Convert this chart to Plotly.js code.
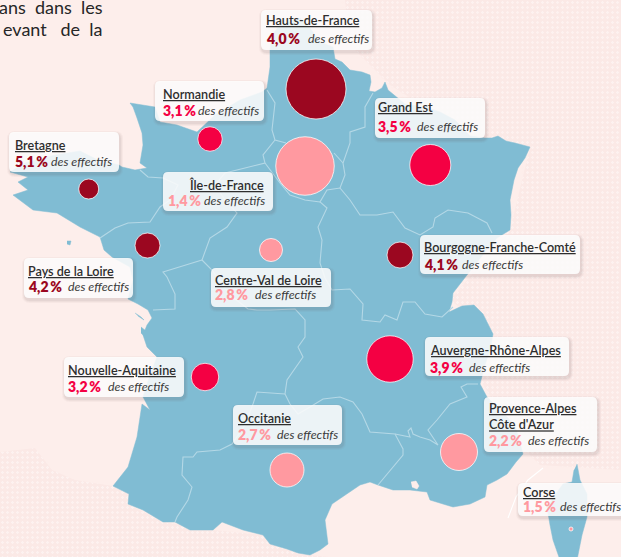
<!DOCTYPE html>
<html><head><meta charset="utf-8">
<script src="https://cdn.plot.ly/plotly-3.0.1.min.js"></script>
<style>
html,body{margin:0;padding:0;background:#fdeeeb;width:621px;height:557px;overflow:hidden}
.tex{position:absolute;left:0;top:0;width:621px;height:557px;
 background-color:#fbe9e6;
 background-image:radial-gradient(circle,rgba(255,248,246,.6) 1px,transparent 1.5px);
 background-size:5px 5px}
#texA{clip-path:polygon(345px 0,621px 0,621px 470px,540px 465px,525px 450px,480px 380px,493px 334px,450px 300px,510px 230px,530px 147px,470px 136px,390px 85px,350px 45px)}
#texB{clip-path:polygon(0 452px,35px 448px,52px 470px,75px 480px,113px 486px,129px 494px,128px 504px,163px 522px,213px 530px,263px 535px,287px 549px,310px 555px,328px 557px,0 557px)}
#chart{position:absolute;left:0;top:0;width:621px;height:557px}
</style></head><body>
<div class="tex" id="texA"></div><div class="tex" id="texB"></div><div id="chart"></div>
<script>
const regions=["Hauts-de-France","Normandie","Bretagne","Île-de-France","Pays de la Loire","Centre-Val de Loire","Grand Est","Bourgogne-Franche-Comté","Auvergne-Rhône-Alpes","Nouvelle-Aquitaine","Occitanie","Provence-Alpes<br>Côte d'Azur","Corse"];
const rates=["4,0","3,1","5,1","1,4","4,2","2,8","3,5","4,1","3,9","3,2","2,7","2,2","1,5"];
const bubbleX=[316,210,88.7,305,147.5,271,430.3,400,390,205,287,459,571];
const bubbleY=[89,139,189,166,245.5,250,165,255,359,377,470,452,529];
const bubbleD=[60,24.5,20,58.5,25,23,41,26,46.5,27.5,34,37,4];
const DARK="#9b0720",RED="#f40043",PINK="#ff99a0";
const rateColor=[DARK,RED,DARK,PINK,DARK,PINK,RED,DARK,RED,RED,PINK,PINK,PINK];
const boxX0=[261,155,9,163,24,211,375,420,425,64,233,484,518];
const boxY0=[10,81,132,172,258,268,98,235,337,357,405,397,483];
const boxX1=[372,264,119,273,133,331,485,580,569,184,342,597,626];
const boxY1=[50,121,172,211,298,307,138,274,376,397,445,452,516];
const textX=[266,163,15,168,28,215,378,424,430,68,238,489,523];
const suffixX=[307.7,198,50.7,204,68,255,417,462,469,108,277,528,560];
const nameY=[20,94,145,184.5,271,280,107,247,350,370,418,416.5,492];
const rateY=[38,110,161,200,286,294,126,264,367,386,434,440,506];

const mainland=[[300,18],[310,28],[320,42],[333,47],[335,59],[342,62],[350,70],[362,72],[370,75],[371,82],[369,91],[375,92],[382,88],[385,82],[388,90],[396,97],[405,104],[425,107],[440,112],[455,120],[470,136],[485,138],[492,138],[498,136],[506,141],[515,143],[530,147],[525,158],[518,168],[514,180],[510,200],[511,215],[510,230],[497,238],[485,252],[467,275],[458,286],[453,293],[452,302],[449,312],[462,306],[474,305],[483,314],[488,324],[493,334],[490,350],[485,365],[480,384],[487,397],[500,410],[515,425],[523,454],[516,462],[507,474],[497,480],[487,485],[485,497],[470,504],[453,507],[443,504],[430,500],[427,492],[410,490],[403,490],[393,490],[378,485],[370,482],[360,485],[343,497],[332,504],[325,520],[328,544],[320,550],[310,555],[298,553],[287,549],[270,544],[263,535],[243,530],[222,522],[213,530],[190,530],[175,522],[163,522],[143,510],[128,504],[129,494],[113,486],[128,467],[137,437],[142,404],[150,410],[143,397],[150,375],[157,357],[147,347],[143,335],[147,325],[152,318],[148,310],[138,304],[128,299],[133,280],[130,267],[112,257],[104,250],[100,237],[80,227],[57,213],[33,210],[13,195],[28,190],[18,182],[28,177],[10,172],[25,163],[55,155],[80,151],[98,160],[119,165],[122,167],[135,170],[147,168],[140,163],[143,145],[142,133],[137,118],[133,107],[130,103],[155,107],[160,122],[177,125],[197,132],[215,115],[240,100],[262,92],[267,88],[270,67],[270,50],[272,35],[280,25]];
const corsica=[[577,464],[580,480],[587,494],[587,517],[582,535],[577,560],[560,560],[553,540],[550,525],[547,507],[555,495],[563,484],[572,482],[574,470]];
const isles=[[[135,313],[141,317],[144,320],[138,316]],[[141,327],[146,331],[145,337],[141,333]],[[67,241],[71,241],[70,245],[67,244]]];
const lagoon=[[411,482],[416,481],[419,486],[417,489],[412,487]];
const borders=[
 [[267,90],[275,103],[272,130],[275,140],[286,143]],
 [[275,140],[263,155],[265,163],[238,170],[225,173],[215,185],[225,200],[237,213],[227,227],[210,238],[202,260],[212,270],[230,295],[248,309],[257,310],[270,310],[295,309],[305,320],[305,337],[298,347],[303,357],[287,380],[285,394],[290,404],[298,414],[310,407],[323,399],[340,397],[353,402],[362,414],[370,432],[395,434],[403,449],[403,455],[387,474],[378,485]],
 [[140,170],[148,177],[163,178],[178,185],[170,200],[160,207],[150,222],[128,223],[115,228],[100,238]],
 [[202,260],[163,272],[167,277],[175,294],[175,309],[153,310]],
 [[285,394],[257,392],[253,404],[245,425],[232,444],[220,450],[197,452],[193,457],[183,457],[182,475],[192,487],[188,500],[177,517],[175,522]],
 [[395,434],[410,437],[408,431],[411,428],[413,434],[420,437],[430,440],[438,445],[428,430],[437,420],[450,404],[467,397],[461,387],[467,384],[478,384]],
 [[320,263],[322,240],[318,227],[327,208],[320,202],[327,190],[340,188],[350,200],[360,215],[377,215],[393,212],[405,228],[420,235],[433,227],[435,218],[448,210],[468,213],[487,223],[492,233]],
 [[320,263],[325,278],[332,290],[350,289],[363,304],[362,320],[380,322],[385,315],[397,320],[403,302],[415,302],[425,314],[442,317],[453,307]],
 [[373,93],[365,107],[365,127],[350,132],[350,143],[343,163],[345,175],[340,188]],
 [[334,153],[343,163]],
 [[265,163],[280,183],[290,195],[305,200],[320,202]]
];
const insetLine=[[543,468],[528,480],[516,497],[508,518]];

const line=(pts,color,width,fill)=>({type:'scatter',mode:'lines',x:pts.map(p=>p[0]),y:pts.map(p=>p[1]),
  line:{color:color,width:width,shape:'linear'},fill:fill?'toself':'none',fillcolor:fill||undefined,hoverinfo:'skip',showlegend:false});
const BLUE="#80bcd3";
const traces=[line(mainland,BLUE,.5,BLUE),line(corsica,BLUE,.5,BLUE)];
isles.forEach(p=>traces.push(line(p,BLUE,.5,BLUE)));
traces.push(line(lagoon,"#fdeeeb",.5,"#fdeeeb"));
borders.forEach(p=>traces.push(line(p,"#b4d8e6",1.1)));
traces.push(line(insetLine,"#ffffff",1.1));
traces.push({type:'scatter',mode:'markers',x:bubbleX,y:bubbleY,text:regions,hoverinfo:'text',showlegend:false,
  marker:{size:bubbleD,opacity:1,color:rateColor,line:{color:'rgba(255,255,255,.75)',width:1}}});

const rr=(x0,y0,x1,y1,r)=>`M${x0+r},${y0}L${x1-r},${y0}Q${x1},${y0} ${x1},${y0+r}L${x1},${y1-r}Q${x1},${y1} ${x1-r},${y1}L${x0+r},${y1}Q${x0},${y1} ${x0},${y1-r}L${x0},${y0+r}Q${x0},${y0} ${x0+r},${y0}Z`;
const shapes=[],ann=[];
const F="Lato";
const note=(x,y,anchor,text,font,align)=>ann.push({x:x,y:y,xref:'x',yref:'y',xanchor:anchor,yanchor:'middle',showarrow:false,text:text,align:align||'left',font:Object.assign({family:F},font)});
regions.forEach((n,i)=>{
 const x0=boxX0[i],y0=boxY0[i],x1=boxX1[i],y1=boxY1[i];
 [[3,.04],[2,.05],[1,.06]].forEach(s=>shapes.push({type:'path',layer:'above',xref:'x',yref:'y',path:rr(x0-s[0]+1,y0-s[0]+2,x1+s[0]+1,y1+s[0]+2,5+s[0]),fillcolor:`rgba(90,70,70,${s[1]})`,line:{width:0}}));
 shapes.push({type:'path',layer:'above',xref:'x',yref:'y',path:rr(x0,y0,x1,y1,5),fillcolor:'rgba(255,255,255,.86)',line:{width:0}});
 const right=n==="Île-de-France";
 note(right?266:textX[i]-2,nameY[i],right?'right':'left',n.split('<br>').map(s=>`<u>${s}</u>`).join('<br>'),{size:12.6,color:'#2e2e2e',weight:600});
 note(textX[i]-2,rateY[i],'left',`${rates[i]}\u2009%`,{size:14,color:rateColor[i],weight:800});
 note(suffixX[i]-2,rateY[i]+.5,'left','<i>des effectifs</i>',{size:12.4,color:'#3a3a3a'});
});
note(105,7,'right',"ans\u00a0\u00a0dans\u00a0\u00a0les",{size:18,color:'#262626'});
note(105,29,'right',"evant\u00a0\u00a0\u00a0de\u00a0\u00a0la",{size:18,color:'#262626'});

Plotly.newPlot('chart',traces,{
 width:621,height:557,margin:{l:0,r:0,t:0,b:0},paper_bgcolor:'rgba(0,0,0,0)',plot_bgcolor:'rgba(0,0,0,0)',showlegend:false,
 xaxis:{range:[0,621],visible:false,fixedrange:true},
 yaxis:{range:[557,0],visible:false,fixedrange:true},
 shapes:shapes,annotations:ann
},{displayModeBar:false,staticPlot:true});
</script></body></html>
